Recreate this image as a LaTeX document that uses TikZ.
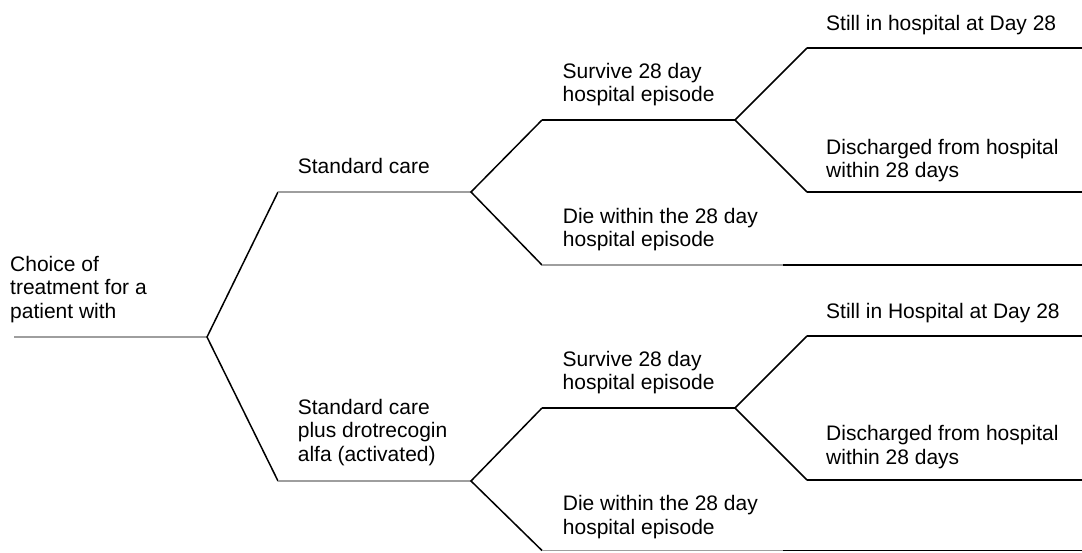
\documentclass[tikz,border=0pt]{standalone}
\usepackage{fontspec}
\setmainfont{Liberation Sans}
\begin{document}
\begin{tikzpicture}[x=1pt,y=-1pt,
  lbl/.style={anchor=base west,inner sep=0pt,align=left,font=\fontsize{21}{23.5}\selectfont},
  greyline/.style={draw=black!38,line width=1.1pt},
  blackline/.style={draw=black,line width=1.8pt},
  diag/.style={draw=black,line width=1.5pt}]
\useasboundingbox (0,0) rectangle (1082,552);
% coordinates
\coordinate (r0) at (14,337);
\coordinate (r) at (207,337);
\coordinate (s) at (278,192);
\coordinate (se) at (471,192);
\coordinate (ss) at (542,120);
\coordinate (sse) at (735,120);
\coordinate (sd) at (542,265);
\coordinate (sdm) at (783,265);
\coordinate (sde) at (1082,265);
\coordinate (ssa) at (807,48);
\coordinate (ssae) at (1082,48);
\coordinate (ssb) at (807,192);
\coordinate (ssbe) at (1082,192);
\coordinate (d) at (278,481);
\coordinate (de) at (471,481);
\coordinate (ds) at (542,408);
\coordinate (dse) at (735,408);
\coordinate (dd) at (542,550.5);
\coordinate (ddm) at (783,550.5);
\coordinate (dde) at (1082,550.5);
\coordinate (dsa) at (807,336);
\coordinate (dsae) at (1082,336);
\coordinate (dsb) at (807,480);
\coordinate (dsbe) at (1082,480);
% lines
\draw[greyline] (r0) -- (r);
\draw[diag] (s) -- (r) -- (d);
\draw[greyline] (s) -- (se);
\draw[diag] (ss) -- (se) -- (sd);
\draw[blackline] (ss) -- (sse);
\draw[diag] (ssa) -- (sse) -- (ssb);
\draw[blackline] (ssa) -- (ssae);
\draw[blackline] (ssb) -- (ssbe);
\draw[greyline] (sd) -- (sdm);
\draw[blackline] (sdm) -- (sde);
\draw[greyline] (d) -- (de);
\draw[diag] (ds) -- (de) -- (dd);
\draw[blackline] (ds) -- (dse);
\draw[diag] (dsa) -- (dse) -- (dsb);
\draw[blackline] (dsa) -- (dsae);
\draw[blackline] (dsb) -- (dsbe);
\draw[greyline] (dd) -- (ddm);
\draw[blackline] (ddm) -- (dde);
% labels (base anchor = baseline of last line)
\node[lbl] (tchoice) at (10,318) {Choice of\\treatment for a\\patient with};
\node[lbl] (tstd) at (297.7,173) {Standard care};
\node[lbl] (tdro) at (297.7,461.3) {Standard care\\plus drotrecogin\\alfa (activated)};
\node[lbl] (tsurv1) at (562.5,101.5) {Survive 28 day\\hospital episode};
\node[lbl] (tdie1) at (562.7,246.5) {Die within the 28 day\\hospital episode};
\node[lbl] (tstill1) at (826,30.7) {Still in hospital at Day 28};
\node[lbl] (tdis1) at (826,177.5) {Discharged from hospital\\within 28 days};
\node[lbl] (tsurv2) at (562.5,389.5) {Survive 28 day\\hospital episode};
\node[lbl] (tdie2) at (562.7,534) {Die within the 28 day\\hospital episode};
\node[lbl] (tstill2) at (826,318.3) {Still in Hospital at Day 28};
\node[lbl] (tdis2) at (826,464.3) {Discharged from hospital\\within 28 days};
\end{tikzpicture}
\end{document}
